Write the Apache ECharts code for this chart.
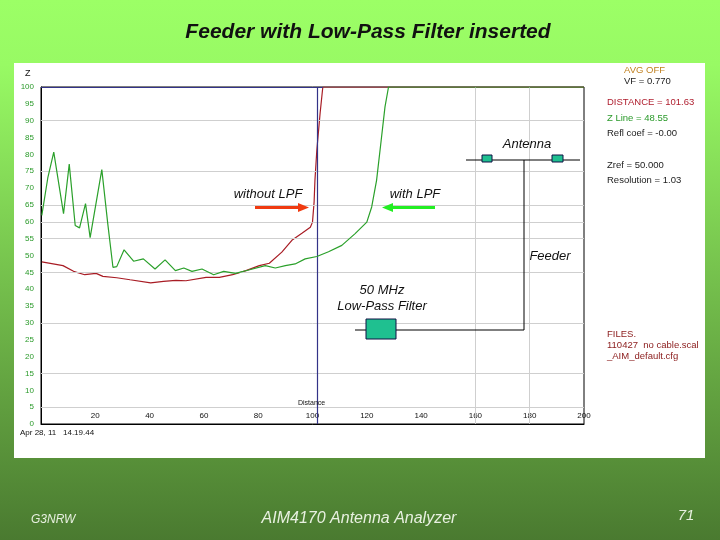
<!DOCTYPE html>
<html>
<head>
<meta charset="utf-8">
<script src="https://cdn.jsdelivr.net/npm/echarts@6/dist/echarts.min.js"></script>
<style>
  html, body { margin: 0; padding: 0; }
  #chart { width: 720px; height: 540px; }
</style>
</head>
<body>
<div id="chart"></div>
<script>
// distance (x) and impedance Z (y)
const withLpfX = [0.3, 2.5, 4.7, 8.3, 10.4, 12.6, 14.2, 16.4, 18.1, 22.4, 24.6, 26.5, 27.9, 30.6, 34.1, 37.7, 42.0, 45.7, 49.5, 52.6, 55.6, 59.3, 63.6, 67.3, 71.6, 76.5, 82.6, 86.3, 90.0, 93.6, 97.3, 101.6, 105.9, 110.8, 115.7, 120.0, 121.8, 123.6, 125.3, 126.7, 128.0, 200];
const withLpfZ = [61.9, 73.0, 80.7, 62.4, 77.1, 58.9, 58.2, 65.4, 55.3, 75.5, 59.4, 46.5, 46.7, 51.7, 48.3, 49.0, 46.0, 48.7, 45.5, 46.3, 45.3, 46.0, 44.3, 45.3, 44.7, 45.7, 47.0, 46.3, 47.0, 47.5, 49.0, 49.7, 51.1, 53.0, 56.5, 59.9, 64.4, 72.3, 84.2, 94.1, 100, 100];
const noLpfX = [0.3, 8.1, 12.0, 16.1, 20.3, 22.8, 27.9, 32.8, 40.4, 45.1, 49.7, 53.4, 60.8, 65.7, 70.6, 75.5, 80.4, 84.1, 88.7, 92.4, 96.1, 99.2, 100.0, 100.6, 100.9, 101.6, 102.8, 103.8, 200];
const noLpfZ = [48.1, 47.0, 45.3, 44.3, 44.7, 43.8, 43.4, 42.8, 41.9, 42.3, 42.6, 42.5, 43.5, 43.5, 44.3, 45.5, 47.0, 47.7, 51.0, 54.5, 56.6, 58.4, 59.9, 66.0, 72.3, 81.3, 92.2, 100, 100];
const gridZ = [90, 75, 65, 60, 55, 45, 30, 15, 5];
const gridDist = [160, 180];
const cursorDist = 101.63;

const readout = [
  ['AVG OFF', '#c08020', 624, 65],
  ['VF = 0.770', '#222', 624, 76],
  ['DISTANCE = 101.63', '#b02030', 607, 97],
  ['Z Line = 48.55', '#2a9a2a', 607, 113],
  ['Refl coef = -0.00', '#222', 607, 128],
  ['Zref = 50.000', '#222', 607, 160],
  ['Resolution = 1.03', '#222', 607, 175],
  ['FILES.', '#8a1a1a', 607, 329],
  ['110427  no cable.scal', '#8a1a1a', 607, 340],
  ['_AIM_default.cfg', '#8a1a1a', 607, 351]
];

const pairs = (xs, ys) => xs.map((x, i) => [x, ys[i]]);
const chart = echarts.init(document.getElementById('chart'));

// text anchored at (x, y): y is the top of the text
const txt = (text, x, y, opt) => ({
  type: 'text', x: x, y: y, z: 50,
  style: Object.assign({ text: text, fill: '#111', font: 'italic 12px "Liberation Sans"', textVerticalAlign: 'top' }, opt || {})
});

const graphics = [
  { type: 'rect', shape: { x: 14, y: 63, width: 691, height: 395 }, style: { fill: '#fff' }, z: -10 },
  txt('Feeder with Low-Pass Filter inserted', 368, 22, { font: 'italic bold 21px "Liberation Sans"', textAlign: 'center' }),
  txt('Z', 25, 69, { font: '9px "Liberation Sans"' }),
  txt('Apr 28, 11   14.19.44', 20, 429, { font: '8px "Liberation Sans"' }),
  txt('Distance', 298, 400, { font: '7px "Liberation Sans"' }),
  // schematic
  { type: 'polyline', z: 40, shape: { points: [[466, 160], [580, 160]] }, style: { stroke: '#000', lineWidth: 1 } },
  { type: 'polyline', z: 40, shape: { points: [[524, 160], [524, 330], [355, 330]] }, style: { stroke: '#000', lineWidth: 1 } },
  { type: 'rect', z: 41, shape: { x: 482, y: 155, width: 10, height: 7 }, style: { fill: '#1fc090', stroke: '#114', lineWidth: 1 } },
  { type: 'rect', z: 41, shape: { x: 552, y: 155, width: 11, height: 7 }, style: { fill: '#1fc090', stroke: '#114', lineWidth: 1 } },
  { type: 'rect', z: 41, shape: { x: 366, y: 319, width: 30, height: 20 }, style: { fill: '#1fc090', stroke: '#114', lineWidth: 1 } },
  txt('Antenna', 527, 138, { textAlign: 'center', font: 'italic 13px "Liberation Sans"' }),
  txt('Feeder', 550, 250, { textAlign: 'center', font: 'italic 13px "Liberation Sans"' }),
  txt('50 MHz', 382, 284, { textAlign: 'center', font: 'italic 13px "Liberation Sans"' }),
  txt('Low-Pass Filter', 382, 300, { textAlign: 'center', font: 'italic 13px "Liberation Sans"' }),
  txt('without LPF', 268, 188, { textAlign: 'center', font: 'italic 13px "Liberation Sans"' }),
  txt('with LPF', 415, 188, { textAlign: 'center', font: 'italic 13px "Liberation Sans"' }),
  { type: 'polygon', z: 40, shape: { points: [[255, 206], [298, 206], [298, 203], [309, 207.5], [298, 212], [298, 209], [255, 209]] }, style: { fill: '#f03a10' } },
  { type: 'polygon', z: 40, shape: { points: [[435, 206], [393, 206], [393, 203], [382, 207.5], [393, 212], [393, 209], [435, 209]] }, style: { fill: '#22ee22' } },
  // footer
  txt('G3NRW', 31, 514, { fill: '#e8f0e0', font: 'italic 12px "Liberation Sans"' }),
  txt('AIM4170 Antenna Analyzer', 359, 511, { fill: '#e8f0e0', font: 'italic 16px "Liberation Sans"', textAlign: 'center' }),
  txt('71', 686, 508, { fill: '#e8f0e0', font: 'italic 15px "Liberation Sans"', textAlign: 'center' })
];
readout.forEach(r => graphics.push(txt(r[0], r[2], r[3], { fill: r[1], font: '9.5px "Liberation Sans"' })));

chart.setOption({
  backgroundColor: new echarts.graphic.LinearGradient(0, 0, 0, 1, [
    { offset: 0, color: '#9cff66' },
    { offset: 0.12, color: '#98fa64' },
    { offset: 1, color: '#4a7a30' }
  ]),
  animation: false,
  grid: { left: 41, top: 87, right: 136, bottom: 116, show: true, borderColor: '#000', borderWidth: 1, backgroundColor: 'transparent' },
  xAxis: {
    type: 'value', min: 0, max: 200, interval: 20,
    axisLine: { lineStyle: { color: '#000' } },
    axisTick: { show: false },
    splitLine: { show: false },
    axisLabel: { inside: true, margin: 4, showMinLabel: false, color: '#111', fontSize: 8, fontFamily: 'Liberation Sans' }
  },
  yAxis: {
    type: 'value', min: 0, max: 100, interval: 5,
    axisLine: { show: true, lineStyle: { color: '#000' } },
    axisTick: { show: false },
    splitLine: { show: false },
    axisLabel: { margin: 7, color: '#2a9a2a', fontSize: 8, fontFamily: 'Liberation Sans' }
  },
  graphic: graphics,
  series: [
    {
      type: 'line', name: 'grid', data: [], silent: true,
      markLine: {
        silent: true, symbol: 'none', label: { show: false },
        lineStyle: { color: '#cfcfcf', type: 'solid', width: 1 },
        data: gridZ.map(v => ({ yAxis: v })).concat(gridDist.map(v => ({ xAxis: v })))
      }
    },
    {
      type: 'line', name: 'without LPF', data: pairs(noLpfX, noLpfZ),
      showSymbol: false, lineStyle: { color: '#a81c24', width: 1.2 }, z: 4
    },
    {
      type: 'line', name: 'with LPF', data: pairs(withLpfX, withLpfZ),
      showSymbol: false, lineStyle: { color: '#2aa02a', width: 1.2 }, z: 5,
      markLine: {
        silent: true, symbol: 'none', label: { show: false },
        lineStyle: { color: '#333388', type: 'solid', width: 1.2 },
        data: [{ xAxis: cursorDist }, [{ coord: [0, 100] }, { coord: [noLpfX[noLpfX.length - 2], 100] }]]
      }
    }
  ]
});
</script>
</body>
</html>
